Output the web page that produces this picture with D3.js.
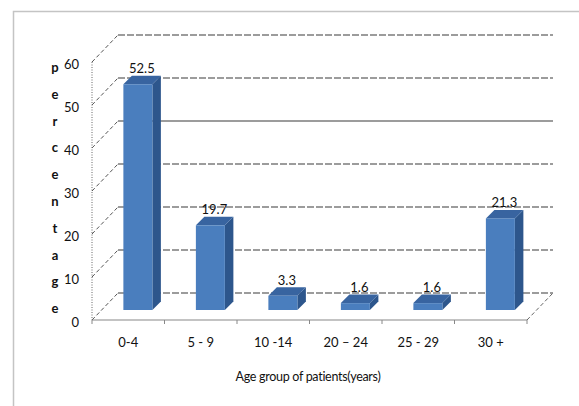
<!DOCTYPE html>
<html><head><meta charset="utf-8">
<script src="https://cdn.jsdelivr.net/npm/d3@7"></script>
<style>
body{margin:0;background:#fff;}
text{font-family:Lato,"Open Sans",sans-serif;fill:#111;}
</style></head><body>
<svg id="c" width="579" height="406"></svg>
<script>
const categories = ["0-4", "5 - 9", "10 -14", "20 \u2013 24", "25 - 29", "30 +"];
const values = [52.5, 19.7, 3.3, 1.6, 1.6, 21.3];
const valueLabels = ["52.5", "19.7", "3.3", "1.6", "1.6", "21.3"];
const yTicks = [0, 10, 20, 30, 40, 50, 60];
const yTitle = "percentage";
const xTitle = "Age group of patients(years)";

const svg = d3.select("#c");
// outer frame
svg.append("path").attr("d","M13.5,406 L13.5,11.5 L579,11.5").attr("fill","none").attr("stroke","#c4c4c4").attr("stroke-width",1.5);

const x = d3.scaleBand().domain(categories).range([92, 527]);
const y = d3.scaleLinear().domain([0, 60]).range([320, 62]);
const DX = 26, DY = -27; // depth offset of back wall

const g = svg.append("g");
yTicks.forEach(t => {
  g.append("line").attr("x1", 92 + DX).attr("x2", 527 + DX)
    .attr("y1", y(t) + DY).attr("y2", y(t) + DY)
    .attr("stroke", "#3a3a3a").attr("stroke-width", 1.2).attr("stroke-dasharray", t === 40 ? null : "7,2");
  g.append("line").attr("x1", 92).attr("y1", y(t)).attr("x2", 92 + DX).attr("y2", y(t) + DY)
    .attr("stroke", "#555").attr("stroke-width", 1).attr("stroke-dasharray", "4,2.5");
});
g.append("line").attr("x1", 527).attr("y1", y(0)).attr("x2", 527 + DX).attr("y2", y(0) + DY)
  .attr("stroke", "#666").attr("stroke-dasharray", "4,2.5");
g.append("line").attr("x1", 92).attr("x2", 527).attr("y1", y(0)).attr("y2", y(0)).attr("stroke", "#888").attr("stroke-width", 1.2);
[...categories.map(c => x(c)), 527].forEach(px => {
  g.append("line").attr("x1", px).attr("x2", px).attr("y1", y(0)).attr("y2", y(0) + 4).attr("stroke", "#888");
});
g.append("line").attr("x1", 92).attr("x2", 92).attr("y1", y(60)).attr("y2", y(0))
  .attr("stroke", "#666").attr("stroke-dasharray", "1,1.5");

const yAxis = d3.axisLeft(y).tickValues(yTicks).tickSize(0).tickPadding(13);
const ya = svg.append("g").attr("transform", "translate(92,2)").call(yAxis);
ya.select(".domain").remove();
ya.selectAll("text").attr("font-size", 13).style("font-family", "Lato,sans-serif").attr("fill", "#111");

const f = 10 / 27;
const bx = DX * f, by = DY * f;
const bdx = 8.5, bdy = -8.5;
const bw = x.bandwidth() * 0.4;
categories.forEach((c, i) => {
  const x0 = x(c) + x.bandwidth() / 2 - bw / 2 + bx;
  const x1 = x0 + bw;
  const yb = y(0) + by;
  const yt = y(values[i]) + by;
  const bg = g.append("g");
  bg.append("path").attr("d", `M${x1},${yb} L${x1 + bdx},${yb + bdy} L${x1 + bdx},${yt + bdy} L${x1},${yt} Z`).attr("fill", "#2D568C");
  bg.append("path").attr("d", `M${x0},${yt} L${x0 + bdx},${yt + bdy} L${x1 + bdx},${yt + bdy} L${x1},${yt} Z`).attr("fill", "#3864A0");
  bg.append("rect").attr("x", x0).attr("y", yt).attr("width", bw).attr("height", yb - yt).attr("fill", "#4A7EBE");
  svg.append("text").attr("x", (x0 + x1) / 2 + 4).attr("y", yt - 11)
    .attr("text-anchor", "middle").attr("font-size", 13).text(valueLabels[i]);
});

categories.forEach(c => {
  svg.append("text").attr("x", x(c) + x.bandwidth() / 2).attr("y", 347)
    .attr("text-anchor", "middle").attr("font-size", 13).text(c);
});
svg.append("text").attr("x", 308).attr("y", 381).attr("text-anchor", "middle")
  .attr("font-size", 12.5).attr("letter-spacing", -0.3).text(xTitle);
yTitle.split("").forEach((ch, i) => {
  svg.append("text").attr("x", 55).attr("y", 72 + i * 26.8).attr("text-anchor", "middle")
    .attr("font-size", 13).attr("font-weight", "bold").text(ch);
});
</script>
</body></html>
